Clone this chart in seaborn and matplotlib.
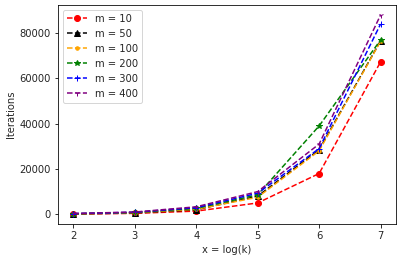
import matplotlib
matplotlib.use('Agg')
import matplotlib.pyplot as plt
import seaborn as sns
import pandas as pd

sns.set_style("ticks")
plt.rcParams['font.family'] = ['DejaVu Sans']

# DATA
log_k = [2, 3, 4, 5, 6, 7]
m_values = [10, 50, 100, 200, 300, 400]
iterations = {
    10:  [100, 400, 1400, 5000, 18000, 67300],
    50:  [150, 600, 2000, 8000, 28500, 76600],
    100: [200, 700, 2200, 7500, 28000, 76400],
    200: [250, 800, 2600, 8600, 39000, 77000],
    300: [300, 900, 2900, 9300, 29000, 84000],
    400: [350, 1000, 3300, 10000, 31000, 88000],
}

colors = ['red', 'black', 'orange', 'green', 'blue', 'purple']
markers = ['o', '^', '.', '*', '+', '1']

rows = []
for m in m_values:
    for x, y in zip(log_k, iterations[m]):
        rows.append({'log_k': x, 'Iterations': y, 'm': f'm = {m}'})
df = pd.DataFrame(rows)

fig, ax = plt.subplots(figsize=(402 / 72, 262 / 72), dpi=72)
for m, c, mk in zip(m_values, colors, markers):
    sub = df[df['m'] == f'm = {m}']
    sns.lineplot(data=sub, x='log_k', y='Iterations', ax=ax, color=c,
                 marker=mk, linestyle='--', label=f'm = {m}',
                 markersize=6 if mk != '.' else 7, markeredgecolor=c,
                 markeredgewidth=1.0)

ax.set_xlabel('x = log(k)')
ax.set_ylabel('Iterations')
ax.set_xticks(log_k)
ax.legend(loc='upper left')
for s in ax.spines.values():
    s.set_color('black')
    s.set_linewidth(0.8)
ax.tick_params(color='black', length=3.5, width=0.8)

plt.subplots_adjust(left=0.144, right=0.985, top=0.981, bottom=0.145)
plt.savefig('out.png', dpi=72)
